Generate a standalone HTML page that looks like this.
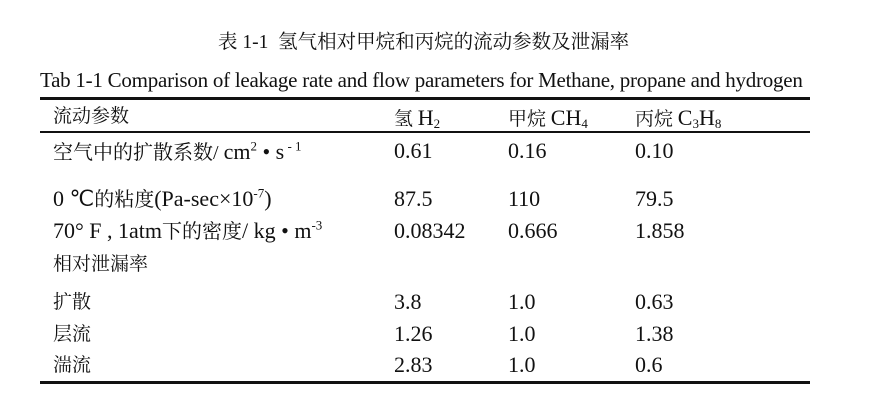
<!DOCTYPE html>
<html><head><meta charset="utf-8"><style>
body{margin:0;width:872px;height:405px;background:#fff;position:relative;overflow:hidden;font-family:"Liberation Serif","Noto Serif CJK SC",serif;color:#111}
.t{position:absolute;white-space:nowrap;line-height:1}
.cn{font-family:"Liberation Serif","Noto Serif CJK SC",serif;font-size:19px}
.n{font-size:22px}
.l{position:absolute;left:40px;width:770px;background:#111}
sub,sup{font-size:13px;line-height:0}
sub{vertical-align:-3px}
</style></head><body>
<div class="t cn" style="left:218px;top:33px;font-size:19.5px">表 1-1 &nbsp;氢气相对甲烷和丙烷的流动参数及泄漏率</div>
<div class="t" style="left:40px;top:70px;font-size:21px;letter-spacing:-0.25px">Tab 1-1 Comparison of leakage rate and flow parameters for Methane, propane and hydrogen</div>
<div class="l" style="top:97px;height:3px"></div>
<div class="l" style="top:131px;height:1.5px"></div>
<div class="l" style="top:381px;height:3px"></div>

<div class="t cn" style="left:53px;top:107px">流动参数</div>
<div class="t cn" style="left:394px;top:107px">氢 <span class="n" style="font-family:'Liberation Serif',serif">H<sub>2</sub></span></div>
<div class="t cn" style="left:508px;top:107px">甲烷 <span class="n" style="font-family:'Liberation Serif',serif">CH<sub>4</sub></span></div>
<div class="t cn" style="left:635px;top:107px">丙烷 <span class="n" style="font-family:'Liberation Serif',serif">C<sub>3</sub>H<sub>8</sub></span></div>

<div class="t cn" style="left:53px;top:141px;font-size:20px">空气中的扩散系数/ <span class="n" style="font-family:'Liberation Serif',serif">cm<sup>2</sup> • s<sup> - 1</sup></span></div>
<div class="t n" style="left:394px;top:140px">0.61</div>
<div class="t n" style="left:508px;top:140px">0.16</div>
<div class="t n" style="left:635px;top:140px">0.10</div>

<div class="t cn" style="left:53px;top:188px;font-size:20px"><span class="n" style="font-family:'Liberation Serif',serif">0 ℃</span>的粘度<span class="n" style="font-family:'Liberation Serif',serif">(Pa-sec×10<sup>-7</sup>)</span></div>
<div class="t n" style="left:394px;top:188px">87.5</div>
<div class="t n" style="left:508px;top:188px">110</div>
<div class="t n" style="left:635px;top:188px">79.5</div>

<div class="t cn" style="left:53px;top:220px;font-size:20px"><span class="n" style="font-family:'Liberation Serif',serif">70° F , 1atm</span>下的密度<span class="n" style="font-family:'Liberation Serif',serif">/ kg • m<sup>-3</sup></span></div>
<div class="t n" style="left:394px;top:220px">0.08342</div>
<div class="t n" style="left:508px;top:220px">0.666</div>
<div class="t n" style="left:635px;top:220px">1.858</div>

<div class="t cn" style="left:53px;top:255px">相对泄漏率</div>

<div class="t cn" style="left:53px;top:293px">扩散</div>
<div class="t n" style="left:394px;top:291px">3.8</div>
<div class="t n" style="left:508px;top:291px">1.0</div>
<div class="t n" style="left:635px;top:291px">0.63</div>

<div class="t cn" style="left:53px;top:325px">层流</div>
<div class="t n" style="left:394px;top:323px">1.26</div>
<div class="t n" style="left:508px;top:323px">1.0</div>
<div class="t n" style="left:635px;top:323px">1.38</div>

<div class="t cn" style="left:53px;top:356px">湍流</div>
<div class="t n" style="left:394px;top:354px">2.83</div>
<div class="t n" style="left:508px;top:354px">1.0</div>
<div class="t n" style="left:635px;top:354px">0.6</div>
</body></html>
